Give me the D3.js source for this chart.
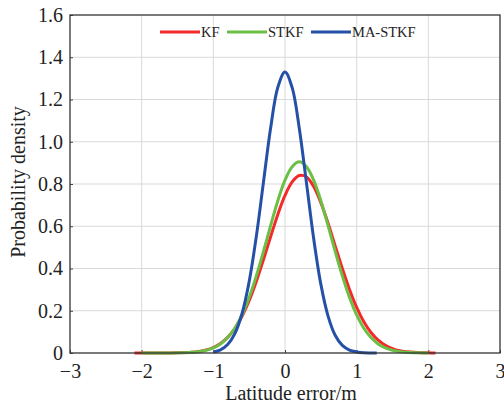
<!DOCTYPE html>
<html>
<head>
<meta charset="utf-8">
<script src="https://cdn.jsdelivr.net/npm/d3@7"></script>
<style>
  body { margin: 0; background: #fff; }
  svg text { font-family: "Liberation Serif", "Times New Roman", serif; fill: #222; }
</style>
</head>
<body>
<div class="chart-container"></div>
<script>
// values
const kfX = [-2.1, -2.0, -1.8, -1.6, -1.5, -1.4, -1.3, -1.2, -1.1, -1.0, -0.9, -0.8, -0.7, -0.6, -0.5, -0.4, -0.3, -0.2, -0.1, 0.0, 0.1, 0.2, 0.3, 0.4, 0.5, 0.6, 0.7, 0.8, 0.9, 1.0, 1.1, 1.2, 1.3, 1.4, 1.5, 1.6, 1.7, 1.8, 1.9, 2.0, 2.1]
const kfY = [0, 0, 0.0001, 0.0004, 0.0009, 0.0019, 0.0039, 0.0077, 0.0146, 0.026, 0.045, 0.074, 0.116, 0.174, 0.248, 0.339, 0.442, 0.551, 0.656, 0.746, 0.810, 0.840, 0.833, 0.788, 0.712, 0.615, 0.507, 0.400, 0.301, 0.216, 0.148, 0.097, 0.061, 0.037, 0.021, 0.011, 0.006, 0.003, 0.0014, 0.0006, 0]

const stkfX = [-2.0, -1.8, -1.6, -1.5, -1.4, -1.3, -1.2, -1.1, -1.0, -0.9, -0.8, -0.7, -0.6, -0.5, -0.4, -0.3, -0.2, -0.1, 0.0, 0.1, 0.2, 0.3, 0.4, 0.5, 0.6, 0.7, 0.8, 0.9, 1.0, 1.1, 1.2, 1.3, 1.4, 1.5, 1.6, 1.7, 1.8, 1.9, 2.0]
const stkfY = [0, 0, 0.0003, 0.0006, 0.0014, 0.0031, 0.0064, 0.0127, 0.024, 0.043, 0.073, 0.117, 0.180, 0.263, 0.365, 0.481, 0.604, 0.721, 0.818, 0.882, 0.905, 0.882, 0.818, 0.721, 0.604, 0.481, 0.365, 0.263, 0.180, 0.117, 0.073, 0.043, 0.024, 0.0127, 0.0064, 0.0031, 0.0014, 0.0006, 0.0003]

const maX = [-1.0, -0.9, -0.8, -0.7, -0.6, -0.5, -0.4, -0.3, -0.2, -0.1, 0.0, 0.1, 0.2, 0.3, 0.4, 0.5, 0.6, 0.7, 0.8, 0.9, 1.0, 1.1, 1.2, 1.28]
const maY = [0.005, 0.015, 0.040, 0.092, 0.186, 0.338, 0.552, 0.810, 1.066, 1.258, 1.330, 1.256, 1.062, 0.804, 0.542, 0.326, 0.176, 0.084, 0.036, 0.014, 0.005, 0.001, 0.0003, 0]

const seriesNames = ["KF", "STKF", "MA-STKF"]
const seriesColors = ["#f42a2a", "#6cbf45", "#2550a8"]
const xTicks = [-3, -2, -1, 0, 1, 2, 3]
const yTicks = [0, 0.2, 0.4, 0.6, 0.8, 1.0, 1.2, 1.4, 1.6]

const serif = '"Liberation Serif", "Times New Roman", serif'
const width = 504
const height = 407
const margin = {left: 70, top: 15, right: 4, bottom: 54}
const chartWidth = width - margin.left - margin.right
const chartHeight = height - margin.top - margin.bottom

const svg = d3.select('.chart-container')
  .append('svg')
    .attr('width', width)
    .attr('height', height)

const g = svg.append('g')
    .attr('transform', `translate(${margin.left}, ${margin.top})`)

const xScale = d3.scaleLinear().domain([-3, 3]).range([0, chartWidth])
const yScale = d3.scaleLinear().domain([0, 1.6]).range([chartHeight, 0])

// grid
g.append('g')
  .selectAll('line')
  .data(xTicks.slice(1, -1))
  .enter().append('line')
    .attr('x1', d => xScale(d)).attr('x2', d => xScale(d))
    .attr('y1', 0).attr('y2', chartHeight)
    .attr('stroke', '#d9d9d9').attr('stroke-width', 1)
g.append('g')
  .selectAll('line')
  .data(yTicks.slice(1, -1))
  .enter().append('line')
    .attr('y1', d => yScale(d)).attr('y2', d => yScale(d))
    .attr('x1', 0).attr('x2', chartWidth)
    .attr('stroke', '#d9d9d9').attr('stroke-width', 1)

const fmtY = d => d === 0 ? '0' : d3.format('.1f')(d)
const fmtX = d => d < 0 ? '\u2212' + Math.abs(d) : String(d)

const xAxis = g.append('g')
  .attr('transform', `translate(0, ${chartHeight})`)
  .call(d3.axisBottom(xScale).tickValues(xTicks).tickFormat(fmtX).tickSize(-3).tickPadding(9))
const yAxis = g.append('g')
  .call(d3.axisLeft(yScale).tickValues(yTicks).tickFormat(fmtY).tickSize(-3).tickPadding(7))

xAxis.attr('font-family', serif).attr('font-size', null)
yAxis.attr('font-family', serif).attr('font-size', null)
xAxis.selectAll('.domain').remove()
yAxis.selectAll('.domain').remove()
xAxis.selectAll('text').style('font-family', serif).style('font-size', '20px').attr('fill', '#222').attr('dy', '0.78em')
yAxis.selectAll('text').style('font-family', serif).style('font-size', '20px').attr('fill', '#222')
xAxis.selectAll('.tick line').attr('stroke', '#444')
yAxis.selectAll('.tick line').attr('stroke', '#444')

// curves
const series = [
  kfX.map((x, i) => ({x: x, y: kfY[i]})),
  stkfX.map((x, i) => ({x: x, y: stkfY[i]})),
  maX.map((x, i) => ({x: x, y: maY[i]}))
]
const line = d3.line()
  .x(d => xScale(d.x))
  .y(d => yScale(d.y))
  .curve(d3.curveCatmullRom)

g.selectAll('.curve')
  .data(series)
  .enter().append('path')
    .attr('class', 'curve')
    .attr('d', line)
    .attr('fill', 'none')
    .attr('stroke', (d, i) => seriesColors[i])
    .attr('stroke-width', 3)
    .attr('stroke-linejoin', 'round')

// frame
g.append('rect')
  .attr('width', chartWidth).attr('height', chartHeight)
  .attr('fill', 'none').attr('stroke', '#333').attr('stroke-width', 1.3)

// legend
const legendX = [90, 157, 241]
const legend = g.selectAll('.legend')
  .data(seriesNames)
  .enter().append('g')
    .attr('transform', (d, i) => `translate(${legendX[i]}, 17)`)
legend.append('line')
  .attr('x1', 0).attr('x2', 40)
  .attr('stroke', (d, i) => seriesColors[i])
  .attr('stroke-width', 3)
legend.append('text')
  .attr('x', 41).attr('dy', '0.35em')
  .style('font-family', serif)
  .style('font-size', '14.5px')
  .text(d => d)

// axis titles
svg.append('text')
  .attr('x', margin.left + chartWidth / 2 + 6)
  .attr('y', 400)
  .attr('text-anchor', 'middle')
  .style('font-family', serif)
  .style('font-size', '20px')
  .text('Latitude error/m')

svg.append('text')
  .attr('transform', `translate(25, 182) rotate(-90)`)
  .attr('text-anchor', 'middle')
  .style('font-family', serif)
  .style('font-size', '20px')
  .text('Probability density')
</script>
</body>
</html>
